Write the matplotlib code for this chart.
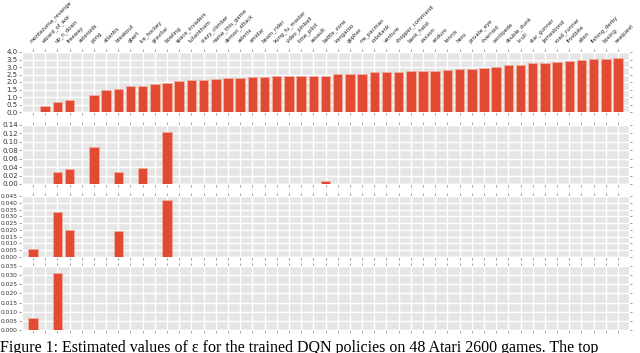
import numpy as np
import matplotlib.pyplot as plt

plt.style.use('ggplot')

games = ['montezuma_revenge', 'wizard_of_wor', 'up_n_down', 'freeway', 'asteroids',
         'pong', 'atlantis', 'breakout', 'qbert', 'ice_hockey', 'gravitar', 'bowling',
         'space_invaders', 'tutankham', 'crazy_climber', 'name_this_game', 'demon_attack',
         'asterix', 'amidar', 'beam_rider', 'kung_fu_master', 'video_pinball', 'time_pilot',
         'assault', 'battle_zone', 'kangaroo', 'gopher', 'ms_pacman', 'robotank', 'venture',
         'chopper_command', 'bank_heist', 'zaxxon', 'enduro', 'tennis', 'hero',
         'private_eye', 'riverraid', 'centipede', 'double_dunk', 'krull', 'star_gunner',
         'jamesbond', 'road_runner', 'frostbite', 'alien', 'fishing_derby', 'boxing',
         'seaquest']

# row 1: all games
row1 = [0.0, 0.38, 0.67, 0.78, 0.0, 1.16, 1.44, 1.56, 1.71, 1.71, 1.87, 1.96,
        2.07, 2.13, 2.16, 2.2, 2.24, 2.24, 2.31, 2.36, 2.38, 2.38, 2.4, 2.4, 2.4,
        2.51, 2.51, 2.56, 2.64, 2.64, 2.69, 2.71, 2.71, 2.76, 2.82, 2.89, 2.89,
        2.93, 2.98, 3.11, 3.11, 3.24, 3.24, 3.33, 3.4, 3.47, 3.51, 3.56, 3.62]

# rows 2-4: only a few games are non zero
row2 = {'up_n_down': 0.028, 'freeway': 0.035, 'pong': 0.088, 'breakout': 0.028,
        'ice_hockey': 0.037, 'bowling': 0.124, 'battle_zone': 0.007}
row3 = {'montezuma_revenge': 0.006, 'up_n_down': 0.033, 'freeway': 0.020,
        'breakout': 0.0195, 'bowling': 0.042}
row4 = {'montezuma_revenge': 0.0068, 'up_n_down': 0.031}

yticks = [np.arange(0, 4.01, 0.5), np.arange(0, 0.141, 0.02),
          np.arange(0, 0.0451, 0.005), np.arange(0, 0.0351, 0.005)]
yfmt = ['%.1f', '%.2f', '%.3f', '%.3f']
ysize = [5, 5, 4.3, 4.3]

def to_list(d):
    return [d.get(g, 0.0) for g in games]

data = [row1, to_list(row2), to_list(row3), to_list(row4)]

W, H = 640, 353
fig = plt.figure(figsize=(6.4, 3.53), dpi=100)

# pixel boxes (left, top, right, bottom)
boxes = [(22, 52, 629, 112), (22, 125, 629, 184), (22, 196, 629, 257), (22, 266, 629, 330)]

x = np.arange(len(games))
for i, (vals, box) in enumerate(zip(data, boxes)):
    l, t, r, b = box
    ax = fig.add_axes([l / W, 1 - b / H, (r - l) / W, (b - t) / H])
    v = np.array(vals)
    m = v > 0
    ax.bar(x[m], v[m], width=0.78, color='#E24A33', edgecolor='#F0B0A0', linewidth=0.6, zorder=3)
    ax.set_xlim(-0.9, len(games) - 0.1)
    ax.set_ylim(0, yticks[i][-1])
    ax.set_yticks(yticks[i])
    ax.set_yticklabels([yfmt[i] % y for y in yticks[i]], fontsize=ysize[i], color='#333333')
    ax.set_xticks(x)
    ax.tick_params(axis='x', top=True, bottom=True, length=2, width=0.4, color='#555555', pad=1)
    ax.tick_params(axis='y', left=True, right=True, length=2, width=0.4, color='#555555', pad=1)
    ax.grid(True, color='white', linewidth=1.0)
    ax.set_axisbelow(True)
    if i == 0:
        ax.xaxis.set_ticks_position('both')
        ax.tick_params(axis='x', labeltop=True, labelbottom=False, pad=4)
        ax.set_xticklabels(games, rotation=45, ha='left', rotation_mode='anchor',
                           fontsize=3.9, color='#222222')
    else:
        ax.set_xticklabels([])

fig.text(0.0, 1 - 340 / H,
         'Figure 1: Estimated values of \u03b5 for the trained DQN policies on 48 Atari 2600 games. The top',
         family='Liberation Serif', fontsize=11.5, va='top', ha='left', color='black')

fig.savefig('out.png', dpi=100)
